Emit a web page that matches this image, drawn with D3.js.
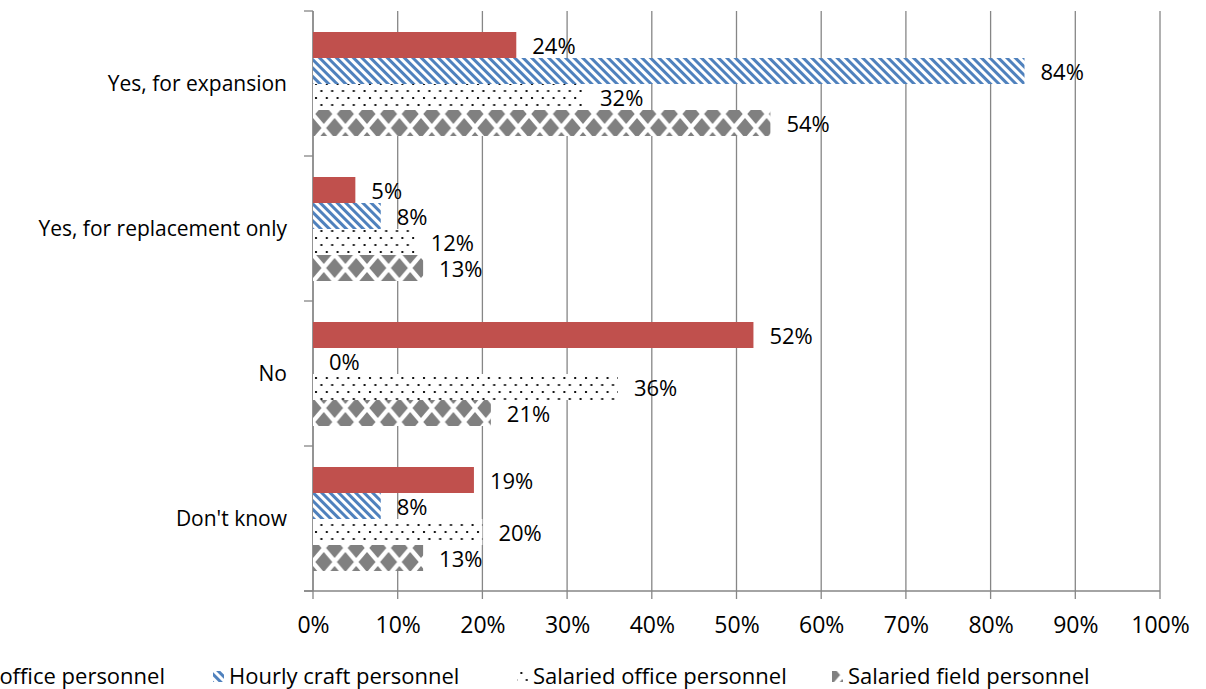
<!DOCTYPE html>
<html>
<head>
<meta charset="utf-8">
<script src="https://cdn.jsdelivr.net/npm/d3@7"></script>
<style>
  body { margin: 0; background: #fff; }
  text { font-family: "Open Sans", sans-serif; fill: #000; }
</style>
</head>
<body>
<div id="chart"></div>
<script>
// data
const categories = ["Yes, for expansion", "Yes, for replacement only", "No", "Don't know"];
const seriesNames = ["Hourly office personnel", "Hourly craft personnel", "Salaried office personnel", "Salaried field personnel"];
const hourlyOffice = [24, 5, 52, 19];
const hourlyCraft = [84, 8, 0, 8];
const salariedOffice = [32, 12, 36, 20];
const salariedField = [54, 13, 21, 13];
const xTicks = [0, 10, 20, 30, 40, 50, 60, 70, 80, 90, 100];

const seriesValues = [hourlyOffice, hourlyCraft, salariedOffice, salariedField];
const seriesFills = ["#C0504D", "url(#stripes)", "url(#dots)", "url(#diamonds)"];

const W = 1206, H = 689;
const margin = { LEFT: 313, RIGHT: 46, TOP: 11, BOTTOM: 98 };
const plotW = W - margin.LEFT - margin.RIGHT;
const plotH = H - margin.TOP - margin.BOTTOM;
const gridColor = "#868686";

const svg = d3.select("#chart").append("svg")
  .attr("width", W)
  .attr("height", H);

// fill patterns
const defs = svg.append("defs");

const stripes = defs.append("pattern")
  .attr("id", "stripes")
  .attr("patternUnits", "userSpaceOnUse")
  .attr("width", 6)
  .attr("height", 6)
  .attr("patternTransform", "rotate(-45)");
stripes.append("rect").attr("width", 6).attr("height", 6).attr("fill", "#fff");
stripes.append("rect").attr("width", 3).attr("height", 6).attr("fill", "#4F81BD");

const dots = defs.append("pattern")
  .attr("id", "dots")
  .attr("patternUnits", "userSpaceOnUse")
  .attr("width", 10.8)
  .attr("height", 14);
dots.append("rect").attr("width", 10.8).attr("height", 14).attr("fill", "#fff");
dots.append("rect").attr("x", 2).attr("y", 2).attr("width", 2).attr("height", 2).attr("fill", "#111");
dots.append("rect").attr("x", 7.4).attr("y", 9).attr("width", 2).attr("height", 2).attr("fill", "#111");

const dw = 21.6, dhgt = 28, dx = 8.5, dy = 10;
const diamonds = defs.append("pattern")
  .attr("id", "diamonds")
  .attr("patternUnits", "userSpaceOnUse")
  .attr("y", 5)
  .attr("width", dw)
  .attr("height", dhgt);
diamonds.append("rect").attr("width", dw).attr("height", dhgt).attr("fill", "#fff");
[[dw / 2, dhgt / 2], [0, 0], [dw, 0], [0, dhgt], [dw, dhgt]].forEach(([cx, cy]) => {
  diamonds.append("path")
    .attr("d", `M${cx},${cy - dy}L${cx + dx},${cy}L${cx},${cy + dy}L${cx - dx},${cy}Z`)
    .attr("fill", "#808080");
});

const g = svg.append("g")
  .attr("transform", `translate(${margin.LEFT}, ${margin.TOP})`);

// scales
const x = d3.scaleLinear().domain([0, 100]).range([0, plotW]);
const y = d3.scaleBand().domain(categories).range([0, plotH]);
const ySub = d3.scaleBand().domain(seriesNames)
  .range([y.bandwidth() * 21 / 145, y.bandwidth() * 125 / 145]);

// vertical gridlines (reach below the axis as tick marks)
g.append("g").selectAll("line")
  .data(xTicks)
  .join("line")
  .attr("x1", d => x(d))
  .attr("x2", d => x(d))
  .attr("y1", 0)
  .attr("y2", plotH + 8)
  .attr("stroke", gridColor)
  .attr("stroke-width", 1.3);

// x axis
const xAxis = g.append("g")
  .attr("transform", `translate(0, ${plotH})`)
  .call(d3.axisBottom(x).tickValues(xTicks).tickSize(0).tickFormat(d => d + "%"));
xAxis.select(".domain").remove();
xAxis.selectAll("text")
  .attr("y", 42)
  .attr("dy", 0)
  .attr("font-size", "23px")
  .attr("font-family", "Open Sans, sans-serif")
  .attr("fill", "#000");
xAxis.append("line")
  .attr("x1", -9).attr("x2", plotW)
  .attr("stroke", gridColor).attr("stroke-width", 1.3);

// y axis
const yAxis = g.append("g")
  .call(d3.axisLeft(y).tickSize(0).tickPadding(26));
yAxis.select(".domain").remove();
yAxis.selectAll("text")
  .attr("dy", 0)
  .attr("y", 7.6)
  .attr("font-size", "21px")
  .attr("font-family", "Open Sans, sans-serif")
  .attr("fill", "#000");
yAxis.append("line")
  .attr("y1", 0).attr("y2", plotH)
  .attr("stroke", gridColor).attr("stroke-width", 1.3);
yAxis.selectAll(".edge")
  .data(categories.map(c => y(c)).concat([plotH]))
  .join("line")
  .attr("class", "edge")
  .attr("x1", -9).attr("x2", 0)
  .attr("y1", d => d).attr("y2", d => d)
  .attr("stroke", gridColor).attr("stroke-width", 1.3);

// bars and value labels
seriesNames.forEach((name, i) => {
  const rows = categories.map((c, j) => ({ cat: c, v: seriesValues[i][j] }));
  const sg = g.append("g").attr("class", "series");
  sg.selectAll("rect")
    .data(rows)
    .join("rect")
    .attr("x", 0)
    .attr("y", d => y(d.cat) + ySub(name))
    .attr("width", d => x(d.v))
    .attr("height", ySub.bandwidth())
    .attr("fill", seriesFills[i]);
  sg.selectAll("text")
    .data(rows)
    .join("text")
    .attr("x", d => x(d.v) + 16)
    .attr("y", d => y(d.cat) + ySub(name) + ySub.bandwidth() / 2 + 8.5)
    .attr("font-size", "22px")
    .text(d => d.v + "%");
});

// legend (first entry runs off the left edge like the reference)
const legendTextX = [165, 229, 533, 848];
const legend = svg.append("g")
  .attr("transform", `translate(0, ${H - 5})`);
seriesNames.forEach((name, i) => {
  const item = legend.append("g");
  const t = item.append("text")
    .attr("x", legendTextX[i])
    .attr("y", 0)
    .attr("font-size", "22px")
    .attr("text-anchor", i === 0 ? "end" : "start")
    .text(name);
  const left = i === 0 ? legendTextX[i] - t.node().getComputedTextLength() : legendTextX[i];
  item.append("rect")
    .attr("x", left - 16)
    .attr("y", -13)
    .attr("width", 11)
    .attr("height", 11)
    .attr("fill", seriesFills[i]);
});
</script>
</body>
</html>
